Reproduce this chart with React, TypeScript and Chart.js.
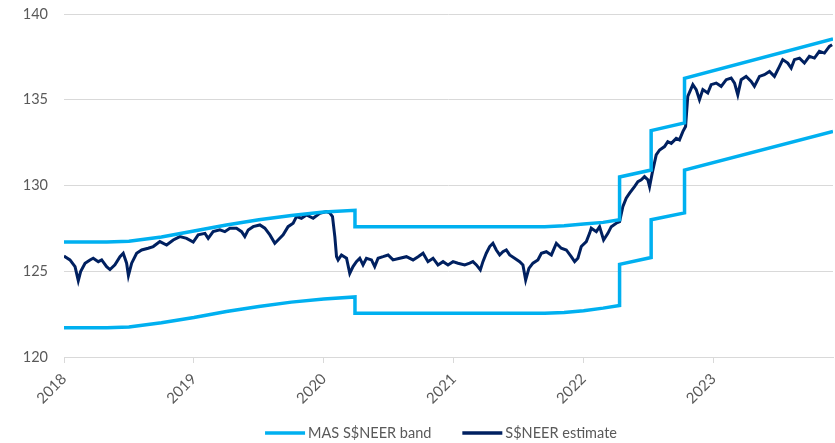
import React, { useEffect, useRef } from "react";
import { Chart, registerables } from "chart.js";

Chart.register(...registerables);

// Time axis: decimal years
const xTickYears = [2018, 2019, 2020, 2021, 2022, 2023];
const yTickValues = [120, 125, 130, 135, 140];

// MAS S$NEER policy band (upper and lower edges); repeated x marks a re-centring step
const bandUpperYears = [
  2018.0, 2018.33, 2018.5, 2018.75, 2019.0, 2019.25, 2019.5, 2019.75, 2020.0, 2020.24,
  2020.24, 2021.7, 2021.85, 2022.0, 2022.15, 2022.277,
  2022.277, 2022.52, 2022.52, 2022.777, 2022.777, 2023.92,
];
const bandUpper = [
  126.7, 126.7, 126.75, 127.0, 127.35, 127.7, 128.0, 128.25, 128.45, 128.55,
  127.6, 127.6, 127.65, 127.75, 127.85, 128.0,
  130.5, 130.9, 133.2, 133.65, 136.25, 138.55,
];
const bandLowerYears = [
  2018.0, 2018.33, 2018.5, 2018.75, 2019.0, 2019.25, 2019.5, 2019.75, 2020.0, 2020.24,
  2020.24, 2021.7, 2021.85, 2022.0, 2022.15, 2022.277,
  2022.277, 2022.52, 2022.52, 2022.777, 2022.777, 2023.92,
];
const bandLower = [
  121.7, 121.7, 121.75, 122.0, 122.3, 122.65, 122.95, 123.2, 123.38, 123.5,
  122.55, 122.55, 122.6, 122.7, 122.85, 123.0,
  125.4, 125.8, 128.0, 128.4, 130.9, 133.15,
];

// S$NEER estimate
const estimateYears = [
  2018.0, 2018.008, 2018.046, 2018.085, 2018.11, 2018.128, 2018.162, 2018.2, 2018.225, 2018.264,
  2018.29, 2018.328, 2018.354, 2018.392, 2018.431, 2018.456, 2018.482, 2018.496, 2018.521, 2018.559,
  2018.598, 2018.648, 2018.687, 2018.738, 2018.79, 2018.841, 2018.892, 2018.944, 2018.995, 2019.033,
  2019.085, 2019.11, 2019.148, 2019.2, 2019.238, 2019.277, 2019.328, 2019.367, 2019.392, 2019.418,
  2019.456, 2019.508, 2019.546, 2019.585, 2019.623, 2019.648, 2019.687, 2019.725, 2019.764, 2019.79,
  2019.828, 2019.867, 2019.918, 2019.969, 2020.021, 2020.046, 2020.067, 2020.085, 2020.098, 2020.11,
  2020.136, 2020.175, 2020.2, 2020.225, 2020.251, 2020.277, 2020.302, 2020.328, 2020.367, 2020.392,
  2020.418, 2020.456, 2020.495, 2020.533, 2020.585, 2020.636, 2020.687, 2020.726, 2020.764, 2020.802,
  2020.841, 2020.879, 2020.918, 2020.956, 2020.995, 2021.033, 2021.085, 2021.123, 2021.148, 2021.175,
  2021.205, 2021.225, 2021.251, 2021.277, 2021.302, 2021.328, 2021.354, 2021.379, 2021.405, 2021.431,
  2021.469, 2021.508, 2021.533, 2021.554, 2021.579, 2021.61, 2021.648, 2021.675, 2021.713, 2021.752,
  2021.79, 2021.828, 2021.867, 2021.905, 2021.931, 2021.956, 2021.982, 2022.021, 2022.046, 2022.059,
  2022.098, 2022.123, 2022.154, 2022.187, 2022.213, 2022.251, 2022.277, 2022.302, 2022.328, 2022.354,
  2022.392, 2022.418, 2022.444, 2022.469, 2022.495, 2022.508, 2022.528, 2022.559, 2022.585, 2022.623,
  2022.648, 2022.675, 2022.713, 2022.738, 2022.764, 2022.785, 2022.802, 2022.841, 2022.867, 2022.892,
  2022.918, 2022.956, 2022.982, 2023.021, 2023.059, 2023.098, 2023.136, 2023.162, 2023.187, 2023.213,
  2023.251, 2023.29, 2023.315, 2023.354, 2023.392, 2023.431, 2023.469, 2023.508, 2023.533, 2023.572,
  2023.598, 2023.623, 2023.662, 2023.7, 2023.738, 2023.777, 2023.815, 2023.854, 2023.892, 2023.913,
];
const estimateValues = [
  125.9, 125.85, 125.66, 125.27, 124.45, 124.98, 125.47, 125.66, 125.76, 125.56,
  125.66, 125.27, 125.1, 125.37, 125.85, 126.05, 125.47, 124.75, 125.47, 126.05,
  126.24, 126.34, 126.44, 126.73, 126.53, 126.82, 127.02, 126.92, 126.7, 127.12,
  127.21, 126.92, 127.31, 127.41, 127.31, 127.51, 127.51, 127.31, 127.02, 127.41,
  127.6, 127.7, 127.51, 127.12, 126.63, 126.82, 127.12, 127.6, 127.8, 128.19,
  128.09, 128.28, 128.09, 128.38, 128.48, 128.4, 128.19, 127.02, 125.85, 125.66,
  125.95, 125.76, 124.88, 125.27, 125.56, 125.76, 125.37, 125.76, 125.66, 125.27,
  125.76, 125.85, 125.95, 125.66, 125.76, 125.85, 125.66, 125.85, 126.05, 125.56,
  125.76, 125.37, 125.56, 125.37, 125.56, 125.47, 125.37, 125.47, 125.56, 125.37,
  125.08, 125.56, 126.05, 126.44, 126.63, 126.24, 125.95, 126.14, 126.24, 125.95,
  125.76, 125.56, 125.37, 124.49, 125.17, 125.47, 125.66, 126.05, 126.14, 125.95,
  126.63, 126.34, 126.24, 125.85, 125.56, 125.76, 126.44, 126.73, 127.21, 127.51,
  127.31, 127.6, 126.82, 127.21, 127.6, 127.8, 127.89, 128.77, 129.26, 129.55,
  129.94, 130.23, 130.33, 130.52, 130.33, 129.94, 130.71, 131.78, 132.07, 132.27,
  132.56, 132.46, 132.75, 132.66, 133.14, 133.44, 135.2, 135.88, 135.59, 135.0,
  135.59, 135.39, 135.88, 135.97, 135.78, 136.17, 136.27, 135.97, 135.29, 136.17,
  136.36, 136.07, 135.78, 136.36, 136.46, 136.65, 136.36, 136.95, 137.34, 137.14,
  136.85, 137.34, 137.43, 137.14, 137.53, 137.43, 137.82, 137.72, 138.11, 138.21,
];

const BAND_COLOR = "#00B0F0";
const ESTIMATE_COLOR = "#002060";
const TEXT_COLOR = "#595959";
const GRID_COLOR = "#d9d9d9";
const FONT_FAMILY = "Lato, 'Liberation Sans', sans-serif";

const toPoints = (xs: number[], ys: number[]) => xs.map((x, i) => ({ x, y: ys[i] }));

// Legend drawn under the axis: one entry per labelled series
const bottomLegend = {
  id: "bottomLegend",
  afterDraw(chart: any) {
    const ctx = chart.ctx;
    const items = chart.data.datasets.filter((d: any) => !d.hideInLegend);
    const lineW = 40;
    const textGap = 3;
    const itemGap = 31;
    ctx.save();
    ctx.font = `14.5px ${FONT_FAMILY}`;
    const widths = items.map((d: any) => lineW + textGap + ctx.measureText(d.label).width);
    const total = widths.reduce((a: number, b: number) => a + b, 0) + itemGap * (items.length - 1);
    let x = 441 - total / 2;
    const y = 433;
    items.forEach((d: any, i: number) => {
      ctx.strokeStyle = d.borderColor;
      ctx.lineWidth = 3.5;
      ctx.beginPath();
      ctx.moveTo(x, y);
      ctx.lineTo(x + lineW, y);
      ctx.stroke();
      ctx.fillStyle = TEXT_COLOR;
      ctx.textAlign = "left";
      ctx.textBaseline = "middle";
      ctx.fillText(d.label, x + lineW + textGap, y);
      x += widths[i] + itemGap;
    });
    ctx.restore();
  },
};

export default function App() {
  const canvasRef = useRef<HTMLCanvasElement | null>(null);

  useEffect(() => {
    if (!canvasRef.current) return;
    const chart = new Chart(canvasRef.current, {
      type: "line",
      data: {
        datasets: [
          {
            label: "MAS S$NEER band",
            data: toPoints(bandUpperYears, bandUpper),
            borderColor: BAND_COLOR,
            backgroundColor: BAND_COLOR,
            borderWidth: 3.5,
            pointRadius: 0,
            tension: 0,
            order: 0,
          },
          {
            label: "MAS S$NEER band (lower)",
            hideInLegend: true,
            data: toPoints(bandLowerYears, bandLower),
            borderColor: BAND_COLOR,
            backgroundColor: BAND_COLOR,
            borderWidth: 3.5,
            pointRadius: 0,
            tension: 0,
            order: 0,
          },
          {
            label: "S$NEER estimate",
            data: toPoints(estimateYears, estimateValues),
            borderColor: ESTIMATE_COLOR,
            backgroundColor: ESTIMATE_COLOR,
            borderWidth: 3,
            pointRadius: 0,
            tension: 0,
            order: 1,
          },
        ] as any,
      },
      options: {
        animation: false,
        responsive: true,
        maintainAspectRatio: false,
        layout: { padding: { top: 14, right: 2, left: 0, bottom: 0 } },
        plugins: {
          legend: { display: false },
          tooltip: { enabled: false },
        },
        scales: {
          x: {
            type: "linear",
            min: 2018,
            max: 2023.92,
            afterBuildTicks: (scale: any) => {
              scale.ticks = xTickYears.map((v) => ({ value: v }));
            },
            afterFit: (scale: any) => {
              scale.height = 86;
              scale.paddingLeft = 0;
              scale.paddingRight = 0;
            },
            ticks: {
              minRotation: 45,
              maxRotation: 45,
              autoSkip: false,
              padding: 7,
              color: TEXT_COLOR,
              font: { family: FONT_FAMILY, size: 15 },
              callback: (v: any) => String(v),
            },
            grid: {
              drawOnChartArea: false,
              drawTicks: true,
              tickLength: 6,
              color: GRID_COLOR,
            },
            border: { display: true, color: GRID_COLOR, width: 1 },
          },
          y: {
            min: 120,
            max: 140,
            afterBuildTicks: (scale: any) => {
              scale.ticks = yTickValues.map((v) => ({ value: v }));
            },
            afterFit: (scale: any) => {
              scale.width = 64;
              scale.paddingTop = 0;
              scale.paddingBottom = 0;
            },
            ticks: {
              padding: 16,
              color: TEXT_COLOR,
              font: { family: FONT_FAMILY, size: 14.5 },
            },
            grid: { color: GRID_COLOR, drawTicks: false, lineWidth: 1 },
            border: { display: false },
          },
        },
      },
      plugins: [bottomLegend],
    } as any);
    return () => chart.destroy();
  }, []);

  return (
    <div style={{ position: "absolute", left: 0, top: 0, width: 835, height: 443, background: "#fff" }}>
      <canvas ref={canvasRef} />
    </div>
  );
}
